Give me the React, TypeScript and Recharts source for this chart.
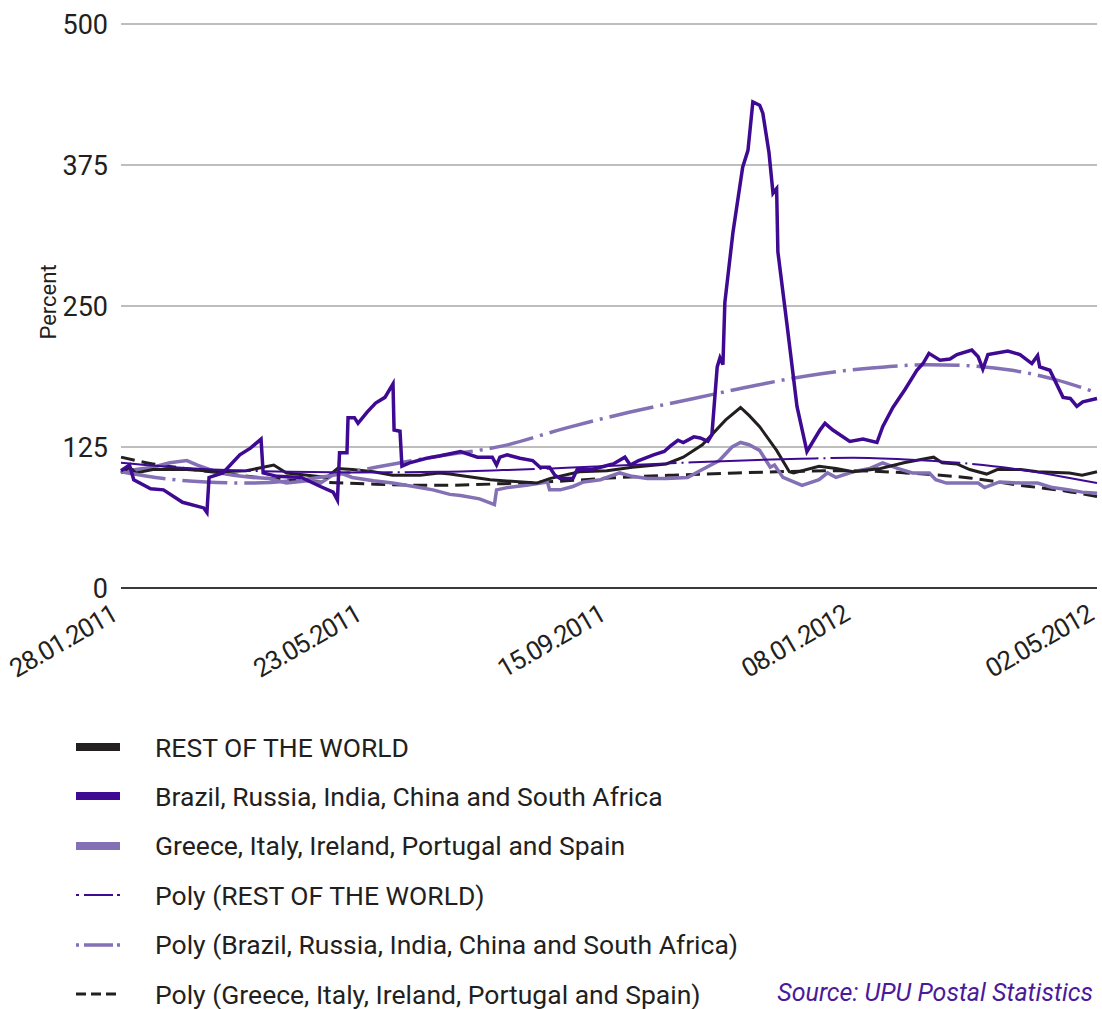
import { LineChart, Line, XAxis, YAxis, CartesianGrid } from "recharts";

// days since 28.01.2011, values in percent
const dateTicks = [0, 115, 230, 345, 460];
const dateLabels = ["28.01.2011", "23.05.2011", "15.09.2011", "08.01.2012", "02.05.2012"];
const percentTicks = [0, 125, 250, 375, 500];

const restDays = [0, 4, 7, 15, 31, 47, 59, 67, 72, 78, 88, 97, 102, 109, 119, 128, 141, 150, 155, 174, 196, 202, 216, 229, 241, 257, 265, 274, 285, 292, 296, 301, 309, 315, 317, 329, 337, 345, 358, 369, 377, 383, 387, 394, 400, 408, 413, 424, 432, 447, 453, 460];
const restValues = [102, 107, 102, 105, 105, 103, 104, 107, 109, 102, 100, 98, 106, 105, 103, 100, 100, 102, 101, 96, 93, 97, 103, 104, 107, 110, 116, 127, 149, 160, 153, 143, 122, 103, 102, 108, 106, 103, 106, 111, 114, 116, 111, 110, 105, 101, 105, 105, 103, 102, 100, 103];

const bricsDays = [0, 4, 6, 14, 20, 29, 39, 40.5, 41.5, 48, 56, 61, 66, 67, 73.5, 85, 94, 100, 102, 103, 106.5, 107, 110, 111.7, 116, 120, 124.4, 128.2, 128.7, 131.5, 132.4, 136, 144, 150, 160, 168, 175, 177, 178.6, 182, 188, 194, 197.5, 202, 204.5, 207, 213, 215, 222, 230, 232, 237.5, 240, 244, 251, 256, 259, 262.5, 265, 270, 273, 276.6, 278.5, 281, 282.3, 283.7, 284.6, 288.4, 293, 295.5, 297.8, 301, 302.5, 305.4, 307.3, 309, 309.6, 313.8, 318.6, 323.3, 329.4, 331.8, 335.5, 343.5, 349.7, 356.3, 359, 363.8, 369.5, 375.1, 378, 380.8, 386, 390.7, 394, 401, 404, 406.2, 408.6, 418, 423.7, 429.3, 432, 433, 437.8, 444, 447.4, 450.5, 453.3, 460];
const bricsValues = [104, 109, 96, 88, 87, 76, 71, 67, 98, 102, 118, 124, 132, 102, 99, 98, 90, 85, 78, 120, 120, 151, 151, 146, 156, 164, 169, 181, 140, 139, 108, 111, 115, 117, 121, 116, 116, 109, 116, 118, 115, 113, 107, 107, 100, 97, 97, 105, 105, 109, 110, 116, 109, 113, 118, 121, 126, 131, 129, 134, 133, 130, 136, 196, 204, 198, 253, 315, 373, 388, 431, 428, 421, 386, 350, 354, 298, 235, 161, 121, 140, 146, 140, 130, 132, 129, 143, 160, 176, 193, 199, 208, 202, 203, 207, 211, 205, 194, 207, 210, 207, 199, 206, 196, 193, 169, 168, 161, 165, 168];

const giipsDays = [0, 7, 15, 23, 31, 36, 42, 47, 53, 62, 70, 78, 88, 94, 102, 109, 119, 128, 138, 147, 155, 160, 169, 176, 177, 182, 191, 201, 202, 207, 213, 218, 226, 235, 241, 248, 257, 267, 274, 282, 288, 292, 296, 301, 306, 308, 312, 321, 329, 333, 337, 345, 353, 359, 366, 373, 381, 384, 389, 397, 404, 407, 414, 424, 432, 439, 447, 453, 460];
const giipsValues = [103, 105, 107, 111, 113, 109, 105, 102, 100, 98, 97, 93, 95, 93, 103, 98, 95, 93, 90, 87, 83, 82, 79, 74, 87, 89, 91, 94, 87, 87, 90, 94, 96, 102, 99, 97, 97, 98, 105, 113, 125, 129, 127, 122, 107, 109, 98, 91, 96, 102, 98, 103, 106, 111, 106, 102, 102, 96, 93, 93, 93, 89, 94, 93, 93, 89, 87, 85, 84];

const polyRestDays = [0, 25, 50, 80, 110, 150, 180, 210, 240, 270, 300, 320, 345, 370, 395, 420, 440, 460];
const polyRestValues = [111, 107, 104.5, 103, 102.5, 103, 104.5, 106.5, 109, 111.5, 113.5, 114.5, 115.5, 114, 111, 106, 100, 93];

const polyBricsDays = [0, 20, 40, 60, 80, 100, 120, 150, 180, 210, 240, 270, 300, 330, 360, 380, 400, 420, 440, 460];
const polyBricsValues = [103, 97, 94, 93, 95, 100, 107, 117, 126, 142, 156, 168, 180, 190, 196, 198, 197, 193, 185, 173];

const polyGiipsDays = [0, 15, 30, 47, 70, 94, 120, 150, 180, 210, 230, 260, 290, 320, 345, 370, 400, 424, 445, 460];
const polyGiipsValues = [116, 110, 106, 102, 97, 94, 92, 91, 92.5, 95, 97.5, 100, 102, 103.5, 104, 102, 97.5, 91, 86, 81];

const toPoints = (days: number[], values: number[]) =>
  days.map((day, i) => ({ day, value: values[i] }));

const DARK = "#231f20";
const INDIGO = "#3f0a92";
const LILAC = "#8370b5";

const DateTick = ({ x, y, payload }: any) => {
  const idx = dateTicks.indexOf(payload.value);
  return (
    <g transform={`translate(${x - 2},${y + 23}) rotate(-30)`}>
      <text x={0} y={0} textAnchor="end" fill={DARK} fontSize={26} letterSpacing={-1.2} fontFamily="Roboto">
        {dateLabels[idx]}
      </text>
    </g>
  );
};

const legendItems = [
  { label: "REST OF THE WORLD", kind: "solid", color: DARK },
  { label: "Brazil, Russia, India, China and South Africa", kind: "solid", color: INDIGO },
  { label: "Greece, Italy, Ireland, Portugal and Spain", kind: "solid", color: LILAC },
  { label: "Poly (REST OF THE WORLD)", kind: "dashdot", color: INDIGO, w: 2 },
  { label: "Poly (Brazil, Russia, India, China and South Africa)", kind: "dashdot", color: LILAC, w: 3.5 },
  { label: "Poly (Greece, Italy, Ireland, Portugal and Spain)", kind: "dash", color: DARK },
];

function Swatch({ kind, color, w }: { kind: string; color: string; w?: number }) {
  return (
    <svg width={46} height={12}>
      {kind === "solid" && <line x1={1} x2={45} y1={6} y2={6} stroke={color} strokeWidth={8} />}
      {kind === "dashdot" && (
        <g stroke={color} strokeWidth={w}>
          <line x1={1} x2={4} y1={6} y2={6} />
          <line x1={9} x2={38} y1={6} y2={6} />
          <line x1={42} x2={45} y1={6} y2={6} />
        </g>
      )}
      {kind === "dash" && (
        <line x1={1} x2={45} y1={6} y2={6} stroke={color} strokeWidth={3} strokeDasharray="10 5" />
      )}
    </svg>
  );
}

export default function App() {
  return (
    <div style={{ position: "absolute", left: 0, top: 0, width: 1102, height: 1009, background: "#fff", fontFamily: "Roboto" }}>
      <LineChart width={1102} height={700} margin={{ top: 24, right: 5, bottom: 52, left: 21 }}>
        <CartesianGrid vertical={false} stroke="#a9a9a9" strokeWidth={1.5} />
        <XAxis
          type="number"
          dataKey="day"
          domain={[0, 460]}
          ticks={dateTicks}
          height={60}
          tickLine={false}
          axisLine={{ stroke: "#3a3a3a", strokeWidth: 2 }}
          tick={<DateTick />}
          interval={0}
        />
        <YAxis
          type="number"
          domain={[0, 500]}
          ticks={percentTicks}
          width={100}
          tickLine={false}
          axisLine={false}
          tickMargin={7}
          interval={0}
          tick={{ fill: DARK, fontSize: 27, fontFamily: "Roboto" }}
        />
        <Line data={toPoints(polyGiipsDays, polyGiipsValues)} dataKey="value" type="monotone" stroke={DARK} strokeWidth={3} strokeDasharray="14 7" dot={false} isAnimationActive={false} />
        <Line data={toPoints(giipsDays, giipsValues)} dataKey="value" type="linear" stroke={LILAC} strokeWidth={3.5} dot={false} isAnimationActive={false} />
        <Line data={toPoints(restDays, restValues)} dataKey="value" type="linear" stroke={DARK} strokeWidth={3} dot={false} isAnimationActive={false} />
        <Line data={toPoints(polyBricsDays, polyBricsValues)} dataKey="value" type="monotone" stroke={LILAC} strokeWidth={3.5} strokeDasharray="45 7 3 7" dot={false} isAnimationActive={false} />
        <Line data={toPoints(bricsDays, bricsValues)} dataKey="value" type="linear" stroke={INDIGO} strokeWidth={3.5} dot={false} isAnimationActive={false} />
        <Line data={toPoints(polyRestDays, polyRestValues)} dataKey="value" type="monotone" stroke={INDIGO} strokeWidth={2} strokeDasharray="130 5 2 5" dot={false} isAnimationActive={false} />
      </LineChart>

      <div
        style={{
          position: "absolute",
          left: 48,
          top: 302,
          transform: "translate(-50%, -50%) rotate(-90deg)",
          fontSize: 22,
          color: DARK,
          whiteSpace: "nowrap",
        }}
      >
        Percent
      </div>

      {legendItems.map((item, i) => (
        <div
          key={item.label}
          style={{
            position: "absolute",
            left: 75,
            top: 747 + i * 49.4 - 20,
            height: 40,
            display: "flex",
            alignItems: "center",
            whiteSpace: "nowrap",
          }}
        >
          <Swatch kind={item.kind} color={item.color} w={item.w} />
          <span style={{ marginLeft: 34, fontSize: 26.5, color: DARK }}>{item.label}</span>
        </div>
      ))}

      <div
        style={{
          position: "absolute",
          right: 9,
          top: 978,
          fontSize: 25,
          fontStyle: "italic",
          color: "#4b1a9a",
          whiteSpace: "nowrap",
        }}
      >
        Source: UPU Postal Statistics
      </div>
    </div>
  );
}
